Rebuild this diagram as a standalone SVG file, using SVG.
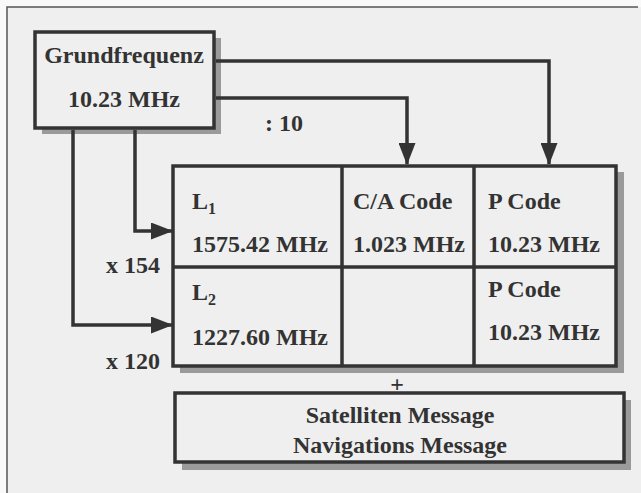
<svg xmlns="http://www.w3.org/2000/svg" width="641" height="493" viewBox="0 0 641 493">
<style>
.t{font-family:"Liberation Serif","Times New Roman",serif;font-weight:bold;font-size:24px;fill:#333}
.s{font-size:16px}
.box{fill:#efefef;stroke:#333;stroke-width:3.5}
.grid{fill:none;stroke:#333;stroke-width:3.5}
.sh{fill:#9a9a9a}
.ln{fill:none;stroke:#333;stroke-width:3.5}
</style>
<defs>
<marker id="ah" viewBox="0 0 22 17" refX="21" refY="8.5" markerWidth="22" markerHeight="17" orient="auto" markerUnits="userSpaceOnUse">
<path d="M0,0 L22,8.5 L0,17 z" fill="#333"/>
</marker>
</defs>
<rect x="0" y="0" width="641" height="493" fill="#f9f9f9"/>
<rect x="7" y="7" width="634" height="486" fill="#efefef"/>
<path d="M7,493 V7 H638" fill="none" stroke="#555" stroke-width="1.5"/>

<g id="grundfrequenz">
<rect class="sh" x="42" y="38" width="179" height="96"/>
<rect class="box" x="35" y="32" width="179" height="96"/>
<text class="t" x="124" y="63" text-anchor="middle">Grundfrequenz</text>
<text class="t" x="124" y="107" text-anchor="middle">10.23 MHz</text>
</g>

<g id="table">
<rect class="sh" x="180" y="172" width="444" height="201"/>
<rect class="box" x="173" y="166" width="443" height="200"/>
<path class="grid" d="M342,166 V366 M474,166 V366 M173,267 H616"/>
</g>
<g id="l1">
<text class="t" x="192" y="209">L<tspan class="s" dy="5">1</tspan></text>
<text class="t" x="192" y="252">1575.42 MHz</text>
</g>
<g id="ca">
<text class="t" x="353" y="209">C/A Code</text>
<text class="t" x="353" y="252">1.023 MHz</text>
</g>
<g id="p1">
<text class="t" x="488" y="209">P Code</text>
<text class="t" x="488" y="252">10.23 MHz</text>
</g>
<g id="l2">
<text class="t" x="192" y="300">L<tspan class="s" dy="5">2</tspan></text>
<text class="t" x="192" y="345">1227.60 MHz</text>
</g>
<g id="p2">
<text class="t" x="488" y="297">P Code</text>
<text class="t" x="488" y="340">10.23 MHz</text>
</g>

<g id="message">
<rect class="sh" x="182" y="400" width="449" height="70"/>
<rect class="box" x="175" y="393" width="449" height="69"/>
<text class="t" x="400" y="423" text-anchor="middle">Satelliten Message</text>
<text class="t" x="400" y="453" text-anchor="middle">Navigations Message</text>
</g>

<g id="connectors">
<path class="ln" d="M216,61 H549 V164" marker-end="url(#ah)"/>
<path class="ln" d="M216,98 H407 V164" marker-end="url(#ah)"/>
<path class="ln" d="M135,130 V231 H172" marker-end="url(#ah)"/>
<path class="ln" d="M73,130 V325 H172" marker-end="url(#ah)"/>
<text class="t" x="284" y="131" text-anchor="middle">: 10</text>
<text class="t" x="133" y="273" text-anchor="middle">x 154</text>
<text class="t" x="133" y="369" text-anchor="middle">x 120</text>
<text class="t" x="397" y="392" text-anchor="middle">+</text>
</g>
</svg>
